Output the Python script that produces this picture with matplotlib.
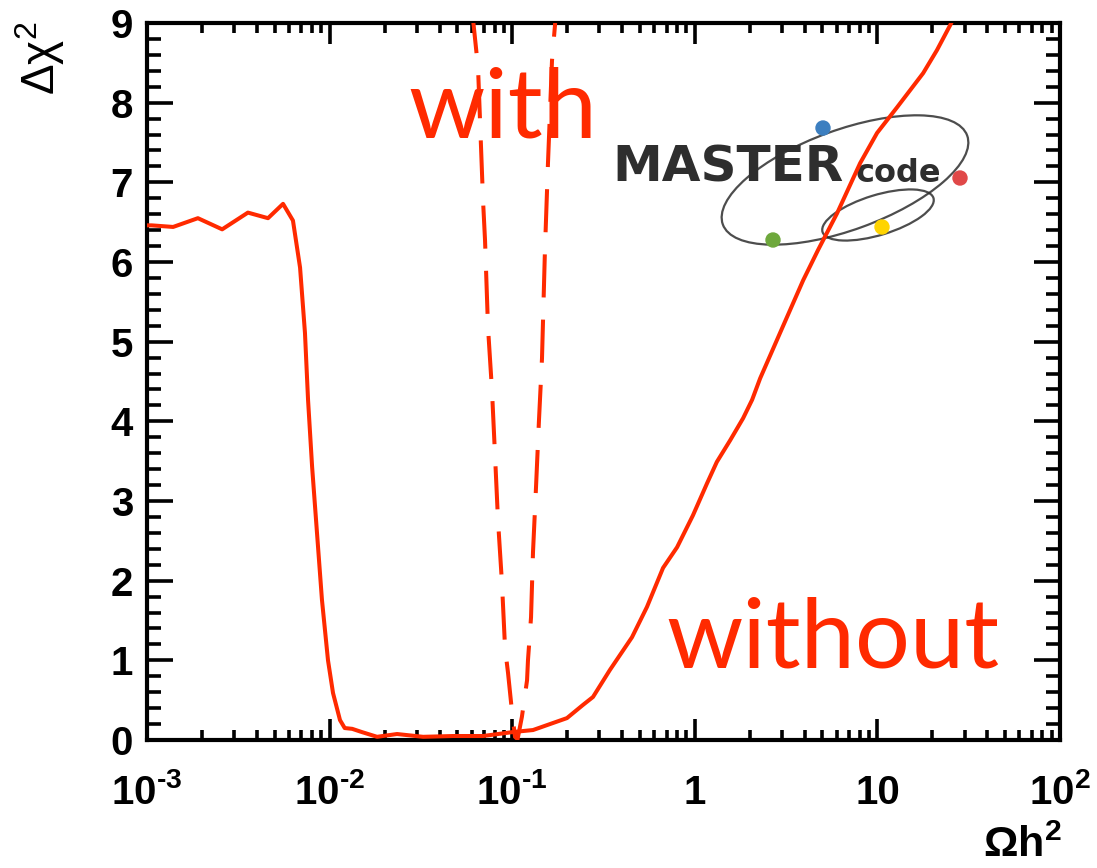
import matplotlib
matplotlib.use("Agg")
import matplotlib.pyplot as plt
from matplotlib.patches import Ellipse, Circle
from matplotlib.transforms import Affine2D
from matplotlib.ticker import LogLocator, MultipleLocator, NullFormatter

# Profile likelihood of the relic density, with and without the WMAP constraint
omega_solid = [1.0e-3, 1.06e-3, 1.39e-3, 1.90e-3, 2.58e-3, 3.57e-3, 4.60e-3, 5.56e-3,
               6.30e-3, 6.89e-3, 7.33e-3, 7.62e-3, 8.02e-3, 8.53e-3, 9.08e-3, 9.80e-3,
               0.01044, 0.0114, 0.0121, 0.0133, 0.0150, 0.0182, 0.0234, 0.0325,
               0.0474, 0.0692, 0.101, 0.130, 0.1995, 0.244, 0.277, 0.343, 0.453,
               0.547, 0.670, 0.80, 0.977, 1.166, 1.32, 1.56, 1.84, 2.06, 2.28,
               2.93, 3.92, 4.73, 6.01, 8.04, 9.96, 12.8, 17.8, 21.2, 25.0, 28.3]
chi2_solid = [6.46, 6.46, 6.44, 6.55, 6.41, 6.62, 6.55, 6.73,
              6.52, 5.93, 5.11, 4.27, 3.43, 2.60, 1.76, 1.00,
              0.59, 0.25, 0.15, 0.14, 0.10, 0.04, 0.075, 0.04,
              0.05, 0.05, 0.10, 0.125, 0.275, 0.44, 0.54, 0.88, 1.29,
              1.67, 2.16, 2.42, 2.82, 3.22, 3.49, 3.76, 4.04, 4.27, 4.54,
              5.11, 5.77, 6.15, 6.61, 7.24, 7.62, 7.94, 8.37, 8.66, 8.97, 9.22]

omega_dashed = [0.0603, 0.0650, 0.0692, 0.0710, 0.0737, 0.0775, 0.0805, 0.0836,
                0.0879, 0.0914, 0.0949, 0.0998, 0.1036, 0.107, 0.113, 0.1206,
                0.1220, 0.1268, 0.130, 0.135, 0.140, 0.1456, 0.151, 0.157,
                0.1652, 0.1715, 0.1737]
chi2_dashed = [9.16, 8.44, 6.78, 6.27, 5.18, 4.39, 3.58, 2.76,
               1.97, 1.15, 0.84, 0.35, 0.04, 0.01, 0.29, 0.75,
               1.00, 1.54, 2.36, 3.17, 3.99, 4.79, 6.12, 7.24,
               8.53, 8.97, 9.16]

x_ticks = [1e-3, 1e-2, 1e-1, 1, 10, 1e2]
x_tick_labels = [r"$\mathbf{10^{‐3}}$", r"$\mathbf{10^{‐2}}$", r"$\mathbf{10^{‐1}}$",
                 "1", "10", r"$\mathbf{10^{2}}$"]
y_ticks = list(range(10))

RED = "#ff2a00"
W, H = 1097, 868

plt.rcParams["font.family"] = ["Liberation Sans", "DejaVu Sans"]
plt.rcParams["mathtext.fontset"] = "custom"
plt.rcParams["mathtext.rm"] = "Liberation Sans"
plt.rcParams["mathtext.bf"] = "Liberation Sans:bold"
plt.rcParams["mathtext.it"] = "Liberation Sans:italic"

fig = plt.figure(figsize=(W / 100, H / 100), dpi=100)
ax = fig.add_axes([147 / W, 1 - 740 / H, (1060 - 147) / W, (740 - 23) / H])

ax.plot(omega_solid, chi2_solid, color=RED, lw=2.9, zorder=4,
        solid_joinstyle="round", solid_capstyle="round")
ax.plot(omega_dashed, chi2_dashed, color=RED, lw=2.9, dashes=(10.7, 5.5), zorder=4)

ax.set_xscale("log")
ax.set_xlim(1e-3, 1e2)
ax.set_ylim(0, 9)
ax.set_xticks(x_ticks)
ax.set_xticklabels(x_tick_labels)
ax.xaxis.set_minor_locator(LogLocator(base=10, subs=range(2, 10), numticks=20))
ax.xaxis.set_minor_formatter(NullFormatter())
ax.set_yticks(y_ticks)
ax.yaxis.set_minor_locator(MultipleLocator(0.2))

ax.tick_params(axis="both", which="both", direction="in", top=True, right=True,
               color="black", width=2.6)
ax.tick_params(axis="x", which="major", length=15, pad=46, labelsize=29)
ax.tick_params(axis="x", which="minor", length=7)
ax.tick_params(axis="y", which="major", length=19, pad=10, labelsize=29)
ax.tick_params(axis="y", which="minor", length=10)
for lbl in ax.get_xticklabels():
    lbl.set_verticalalignment("baseline")
    lbl.set_fontweight("bold")
for lbl in ax.get_yticklabels():
    lbl.set_fontweight("bold")
for sp in ax.spines.values():
    sp.set_linewidth(3)

# pixel-based placement (origin at the top-left corner of the figure)
pix = Affine2D().scale(1 / W, -1 / H).translate(0, 1) + fig.transFigure

fig.text(40, 22, r"$\mathrm{\Delta\chi}^{2}$", transform=pix, rotation=90,
         ha="center", va="top", fontsize=33)
fig.text(1062, 857, r"$\mathbf{\Omega h^{2}}$", transform=pix,
         ha="right", va="baseline", fontsize=31)

ax.text(408, 137, "with", transform=pix, color=RED, fontsize=70,
        family="Lato", ha="left", va="baseline", zorder=5)
ax.text(666, 667, "without", transform=pix, color=RED, fontsize=70,
        family="Lato", ha="left", va="baseline", zorder=5)

# MasterCode logo
GREY = "#2e2e2e"
for (cx, cy, w, h, ang) in [(845, 180, 260, 100, -20), (878, 215, 116, 40, -17)]:
    ax.add_patch(Ellipse((cx, cy), w, h, angle=ang, transform=pix, fill=False,
                         edgecolor=GREY, lw=1.6, alpha=0.85, clip_on=False, zorder=1))
for (cx, cy, col) in [(823, 128, "#3c7fc0"), (960, 178, "#e04848"),
                      (773, 240, "#6ea83c"), (882, 227, "#ffd400")]:
    ax.add_patch(Circle((cx, cy), 7, transform=pix, color=col, clip_on=False, zorder=2))
ax.text(612, 182, "MASTER", transform=pix, color=GREY, fontsize=36,
        family="DejaVu Sans", fontweight="bold", ha="left", va="baseline", zorder=2)
ax.text(856, 182, "code", transform=pix, color=GREY, fontsize=23,
        family="DejaVu Sans", fontweight="bold", ha="left", va="baseline", zorder=2)

fig.savefig("out.png", dpi=100)
